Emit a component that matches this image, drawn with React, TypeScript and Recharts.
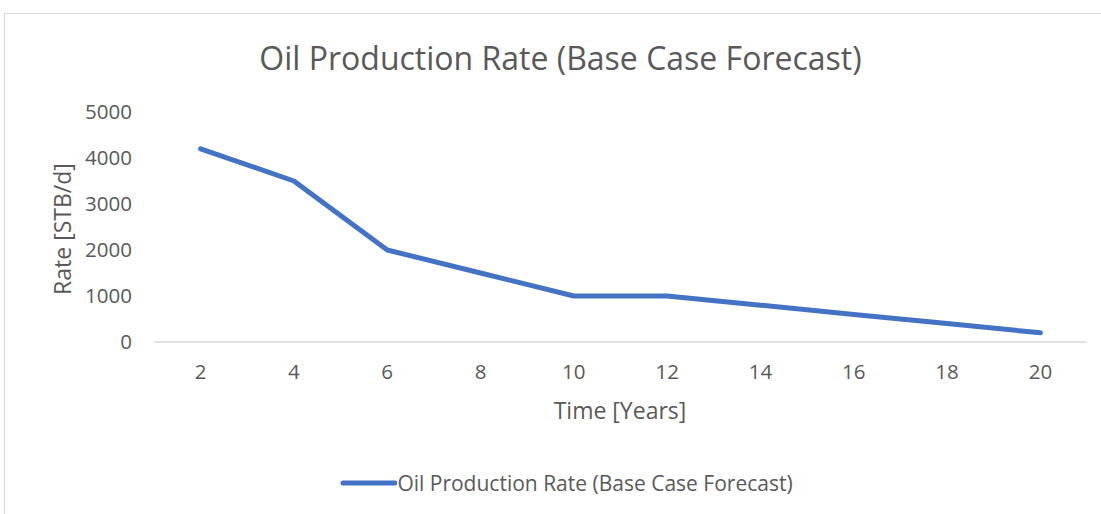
import React from "react";
import { LineChart, Line, XAxis, YAxis, Legend } from "recharts";

document.body.style.margin = "0";

const years = [2, 4, 6, 8, 10, 12, 14, 16, 18, 20];
const rates = [4200, 3500, 2000, 1500, 1000, 1000, 800, 600, 400, 200];
const rateTicks = [0, 1000, 2000, 3000, 4000, 5000];
const seriesName = "Oil Production Rate (Base Case Forecast)";

const data = years.map((y, i) => ({ year: y, rate: rates[i] }));

const FONT = "'Open Sans', sans-serif";
const GREY = "#595959";
const BLUE = "#4472C4";

function LegendContent() {
  return (
    <div style={{ display: "flex", justifyContent: "center", alignItems: "center", fontFamily: FONT, fontSize: 21, color: GREY, height: 26 }}>
      <svg width={57} height={10}>
        <line x1={3} y1={5} x2={55} y2={5} stroke={BLUE} strokeWidth={5} strokeLinecap="round" />
      </svg>
      <span>{seriesName}</span>
    </div>
  );
}

export default function App() {
  return (
    <div style={{ position: "relative", width: 1101, height: 514, overflow: "hidden", background: "#fff" }}>
      <div style={{ position: "absolute", left: 4, top: 13, width: 1120, height: 520, border: "1px solid #d9d9d9" }} />
      <div style={{ position: "absolute", left: 0, top: 36, width: 1121, textAlign: "center", fontFamily: FONT, fontSize: 32, color: GREY }}>
        {seriesName}
      </div>
      <div style={{ position: "absolute", left: 62, top: 229, transform: "translate(-50%, -50%) rotate(-90deg)", whiteSpace: "nowrap", fontFamily: FONT, fontSize: 23, color: GREY }}>
        Rate [STB/d]
      </div>
      <div style={{ position: "absolute", left: 620, top: 410, transform: "translate(-50%, -50%)", whiteSpace: "nowrap", fontFamily: FONT, fontSize: 23, color: GREY }}>
        Time [Years]
      </div>
      <div style={{ position: "absolute", left: 0, top: 0 }}>
        <LineChart width={1101} height={514} data={data} margin={{ top: 112, right: 14, bottom: 0, left: 0 }}>
          <XAxis
            dataKey="year"
            height={146}
            padding={{ left: 46.6, right: 46.6 }}
            axisLine={{ stroke: "#d9d9d9", strokeWidth: 1.5 }}
            tickLine={false}
            tickSize={0}
            tickMargin={22}
            tick={{ fill: GREY, fontSize: 20.5, fontFamily: FONT }}
          />
          <YAxis
            width={154}
            domain={[0, 5000]}
            ticks={rateTicks}
            axisLine={false}
            tickLine={false}
            tickSize={0}
            tickMargin={22}
            tick={{ fill: GREY, fontSize: 20.5, fontFamily: FONT }}
          />
          <Legend content={<LegendContent />} wrapperStyle={{ top: 470, left: 16, width: 1101 }} />
          <Line
            type="linear"
            dataKey="rate"
            name={seriesName}
            stroke={BLUE}
            strokeWidth={5}
            strokeLinecap="round"
            strokeLinejoin="round"
            dot={false}
            isAnimationActive={false}
          />
        </LineChart>
      </div>
    </div>
  );
}
